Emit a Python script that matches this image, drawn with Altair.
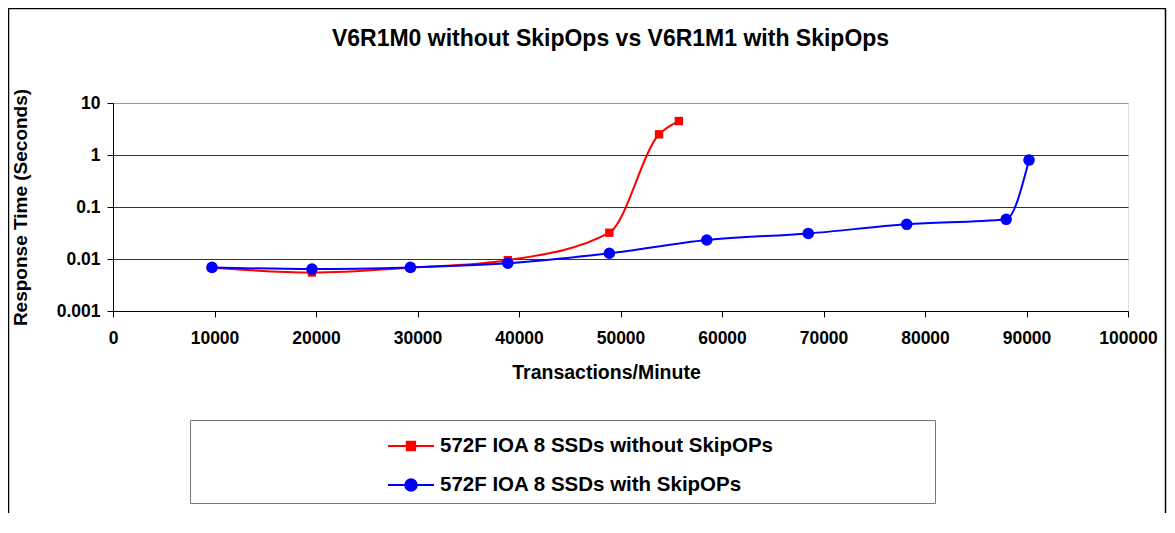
import altair as alt
import pandas as pd

series_names = ["572F IOA 8 SSDs without SkipOPs", "572F IOA 8 SSDs with SkipOPs"]
series_colors = ["#FF0000", "#0000FF"]

red_x = [9750, 19600, 29300, 38900, 48900, 53800, 55750]
red_y = [0.0068, 0.0055, 0.0068, 0.0095, 0.032, 2.5, 4.5]

blue_x = [9750, 19600, 29300, 38900, 48900, 58500, 68500, 78200, 88000, 90250]
blue_y = [0.0069, 0.0064, 0.0069, 0.0083, 0.0129, 0.0232, 0.031, 0.0465, 0.058, 0.80]

x_ticks = [0, 10000, 20000, 30000, 40000, 50000, 60000, 70000, 80000, 90000, 100000]
y_ticks = [0.001, 0.01, 0.1, 1, 10]

FONT = "Liberation Sans"

rows = []
for xv, yv in zip(red_x, red_y):
    rows.append({"x": xv, "y": yv, "series": series_names[0]})
for xv, yv in zip(blue_x, blue_y):
    rows.append({"x": xv, "y": yv, "series": series_names[1]})
df = pd.DataFrame(rows)

x_enc = alt.X(
    "x:Q",
    scale=alt.Scale(domain=[0, 100000], nice=False),
    axis=alt.Axis(
        values=x_ticks, format="d", title="Transactions/Minute", grid=False,
        domainColor="black", tickColor="black", tickSize=6, labelPadding=12,
        labelFont=FONT, labelFontSize=17.5, labelFontWeight="bold", labelColor="black",
        titleFont=FONT, titleFontSize=19.5, titleFontWeight="bold", titleColor="black",
        titlePadding=17, titleX=493, labelFlush=False,
    ),
)
y_enc = alt.Y(
    "y:Q",
    scale=alt.Scale(type="log", domain=[0.001, 10], nice=False),
    axis=alt.Axis(
        values=y_ticks, format="~g", title="Response Time (Seconds)", grid=True,
        gridColor={"condition": {"test": "datum.value >= 10", "value": "#999999"}, "value": "#333333"},
        gridWidth=1,
        domainColor="black", tickColor="black", tickSize=6, labelPadding=7,
        labelFont=FONT, labelFontSize=17.5, labelFontWeight="bold", labelColor="black",
        titleFont=FONT, titleFontSize=19, titleFontWeight="bold", titleColor="black",
        titlePadding=26, labelFlush=False,
    ),
)

sq_path = "M-1.28,0H1.28M-0.23,-0.23H0.23V0.23H-0.23Z"
ci_path = "M-1.28,0H1.28M0.32,0A0.32,0.32,0,1,1,-0.32,0A0.32,0.32,0,1,1,0.32,0Z"

legend_def = alt.Legend(
    title=None,
    orient="none", legendX=77, legendY=317, direction="vertical",
    padding=7, strokeColor="#777777", symbolSize=1296, symbolStrokeWidth=2,
    symbolOffset=195, labelOffset=10, labelLimit=1000, rowPadding=9,
    labelExpr="pad(datum.label, 58, '\u00a0') + '\u200b'",
    labelFont=FONT, labelFontSize=20.5, labelFontWeight="bold", labelColor="black",
)

color_enc = alt.Color("series:N", scale=alt.Scale(domain=series_names, range=series_colors), legend=legend_def)

line = alt.Chart(df).mark_line(interpolate="monotone", strokeWidth=2).encode(
    x=x_enc, y=y_enc, color=color_enc,
    shape=alt.Shape("series:N", scale=alt.Scale(domain=series_names, range=[sq_path, ci_path]), legend=legend_def),
)

red_points = alt.Chart(df).transform_filter(
    alt.datum.series == series_names[0]
).mark_point(filled=True, opacity=1, shape="square", size=70, color=series_colors[0]).encode(
    x=x_enc, y=y_enc
)
blue_points = alt.Chart(df).transform_filter(
    alt.datum.series == series_names[1]
).mark_point(filled=True, opacity=1, shape="circle", size=135, color=series_colors[1]).encode(
    x=x_enc, y=y_enc
)

frame = alt.Chart(df).transform_filter(
    (alt.datum.x == red_x[0]) & (alt.datum.series == series_names[0])
).mark_rect(fill="transparent", stroke="black", strokeWidth=1.5, clip=False).encode(
    x=alt.value(-104.5), x2=alt.value(1052.5), y=alt.value(-94.5), y2=alt.value(700)
)

chart = alt.layer(frame, line, red_points, blue_points).properties(
    width=1015, height=208,
    title=alt.TitleParams(
        "V6R1M0 without SkipOps vs V6R1M1 with SkipOps",
        font=FONT, fontSize=23, fontWeight="bold", color="black",
        baseline="middle", offset=-54, dx=-10, anchor="middle",
    ),
    autosize=alt.AutoSizeParams(type="none"),
    padding={"left": 105, "top": 95, "right": 39, "bottom": 202},
).configure_view(stroke="#999999", strokeWidth=1).configure(background="white")

chart.save("out.html", embed_options={"renderer": "svg", "actions": False})
